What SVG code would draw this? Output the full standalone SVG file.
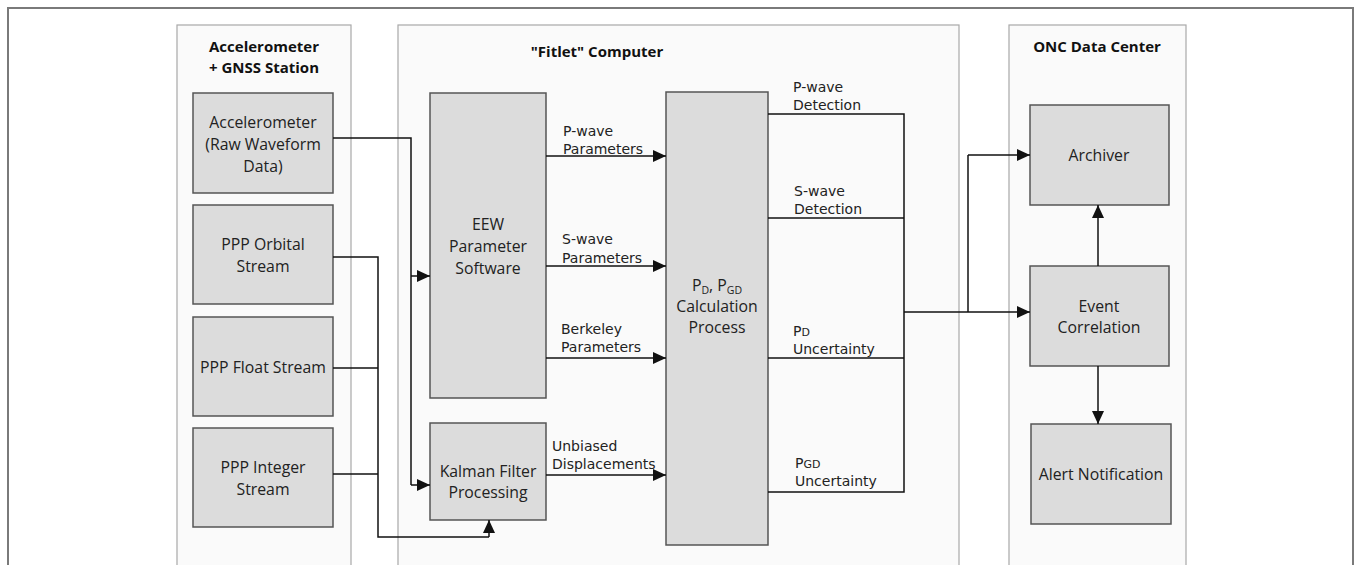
<svg xmlns="http://www.w3.org/2000/svg" width="1356" height="565" viewBox="0 0 1356 565">
  <style>
    .frame { fill: none; stroke: #7a7a7a; stroke-width: 2; }
    .panel { fill: #fafafa; stroke: #a8a8a8; stroke-width: 1.2; }
    .node { fill: #dcdcdc; stroke: #555; stroke-width: 1.5; }
    .title { font-family: "Open Sans", "Liberation Sans", sans-serif; font-weight: bold; font-size: 15px; fill: #111; text-anchor: middle; }
    .lbl { font-family: "Open Sans", "Liberation Sans", sans-serif; font-size: 15.8px; fill: #222; text-anchor: middle; }
    .elbl { font-family: "DejaVu Sans", Verdana, sans-serif; font-size: 14px; fill: #222; }
    .wire { fill: none; stroke: #111; stroke-width: 1.5; }
    .arrow { fill: none; stroke: #111; stroke-width: 1.5; marker-end: url(#head); }
  </style>
  <defs>
    <marker id="head" viewBox="0 0 13 12" refX="13" refY="6" markerWidth="13" markerHeight="12" markerUnits="userSpaceOnUse" orient="auto">
      <path d="M0,0 L13,6 L0,12 z" fill="#111"/>
    </marker>
  </defs>

  <rect width="1356" height="565" fill="#ffffff"/>
  <!-- outer frame -->
  <path class="frame" d="M8,565 V8 H1353 V565"/>

  <!-- panels -->
  <g id="panel-station">
    <rect class="panel" x="177" y="25" width="174" height="560"/>
    <text class="title" x="264" y="52">Accelerometer</text>
    <text class="title" x="264" y="73">+ GNSS Station</text>
  </g>
  <g id="panel-fitlet">
    <rect class="panel" x="398" y="25" width="561" height="560"/>
    <text class="title" x="597" y="57">"Fitlet" Computer</text>
  </g>
  <g id="panel-onc">
    <rect class="panel" x="1009" y="25" width="177" height="560"/>
    <text class="title" x="1097" y="52">ONC Data Center</text>
  </g>

  <!-- station nodes -->
  <g id="accelerometer">
    <rect class="node" x="193" y="93" width="140" height="100"/>
    <text class="lbl" x="263" y="128">Accelerometer</text>
    <text class="lbl" x="263" y="150">(Raw Waveform</text>
    <text class="lbl" x="263" y="172">Data)</text>
  </g>
  <g id="ppp-orbital">
    <rect class="node" x="193" y="205" width="140" height="99"/>
    <text class="lbl" x="263" y="250">PPP Orbital</text>
    <text class="lbl" x="263" y="272">Stream</text>
  </g>
  <g id="ppp-float">
    <rect class="node" x="193" y="317" width="140" height="99"/>
    <text class="lbl" x="263" y="373">PPP Float Stream</text>
  </g>
  <g id="ppp-integer">
    <rect class="node" x="193" y="428" width="140" height="99"/>
    <text class="lbl" x="263" y="473">PPP Integer</text>
    <text class="lbl" x="263" y="495">Stream</text>
  </g>

  <!-- fitlet nodes -->
  <g id="eew">
    <rect class="node" x="430" y="93" width="116" height="305"/>
    <text class="lbl" x="488" y="230">EEW</text>
    <text class="lbl" x="488" y="252">Parameter</text>
    <text class="lbl" x="488" y="274">Software</text>
  </g>
  <g id="kalman">
    <rect class="node" x="430" y="423" width="116" height="97"/>
    <text class="lbl" x="488" y="477">Kalman Filter</text>
    <text class="lbl" x="488" y="498">Processing</text>
  </g>
  <g id="calc">
    <rect class="node" x="666" y="92" width="102" height="453"/>
    <text class="lbl" x="717" y="291">P<tspan font-size="10.5" dy="3">D</tspan><tspan dy="-3">, P</tspan><tspan font-size="10.5" dy="3">GD</tspan></text>
    <text class="lbl" x="717" y="312">Calculation</text>
    <text class="lbl" x="717" y="333">Process</text>
  </g>

  <!-- data center nodes -->
  <g id="archiver">
    <rect class="node" x="1030" y="105" width="139" height="100"/>
    <text class="lbl" x="1099" y="161">Archiver</text>
  </g>
  <g id="event-correlation">
    <rect class="node" x="1030" y="266" width="139" height="100"/>
    <text class="lbl" x="1099" y="312">Event</text>
    <text class="lbl" x="1099" y="333">Correlation</text>
  </g>
  <g id="alert">
    <rect class="node" x="1031" y="424" width="140" height="100"/>
    <text class="lbl" x="1101" y="480">Alert Notification</text>
  </g>

  <!-- connectors -->
  <g id="connectors">
    <!-- accelerometer feed -->
    <path class="wire" d="M333,138 H411 V485"/>
    <path class="arrow" d="M411,276 H430"/>
    <path class="arrow" d="M411,485 H430"/>
    <!-- GNSS streams -->
    <path class="wire" d="M333,257 H378 V537 H489"/>
    <path class="wire" d="M333,368 H378"/>
    <path class="wire" d="M333,474 H378"/>
    <path class="arrow" d="M489,537 V520"/>
    <!-- parameters into calculation -->
    <path class="arrow" d="M546,156 H666"/>
    <path class="arrow" d="M546,266 H666"/>
    <path class="arrow" d="M546,358 H666"/>
    <path class="arrow" d="M546,475 H666"/>
    <!-- detection outputs -->
    <path class="wire" d="M768,114 H904 V492 H768"/>
    <path class="wire" d="M768,218 H904"/>
    <path class="wire" d="M768,358 H904"/>
    <path class="arrow" d="M904,312 H1030"/>
    <path class="wire" d="M968,312 V155"/>
    <path class="arrow" d="M968,155 H1030"/>
    <!-- data center flow -->
    <path class="arrow" d="M1098,266 V205"/>
    <path class="arrow" d="M1098,366 V424"/>

    <!-- connector labels -->
    <text class="elbl" x="563" y="136">P-wave</text>
    <text class="elbl" x="563" y="154">Parameters</text>
    <text class="elbl" x="562" y="244">S-wave</text>
    <text class="elbl" x="562" y="263">Parameters</text>
    <text class="elbl" x="561" y="334">Berkeley</text>
    <text class="elbl" x="561" y="352">Parameters</text>
    <text class="elbl" x="552" y="451">Unbiased</text>
    <text class="elbl" x="552" y="469">Displacements</text>

    <text class="elbl" x="793" y="92">P-wave</text>
    <text class="elbl" x="793" y="110">Detection</text>
    <text class="elbl" x="794" y="196">S-wave</text>
    <text class="elbl" x="794" y="214">Detection</text>
    <text class="elbl" x="793" y="336">P<tspan font-size="11">D</tspan></text>
    <text class="elbl" x="793" y="354">Uncertainty</text>
    <text class="elbl" x="795" y="468">P<tspan font-size="11">GD</tspan></text>
    <text class="elbl" x="795" y="486">Uncertainty</text>
  </g>
</svg>
